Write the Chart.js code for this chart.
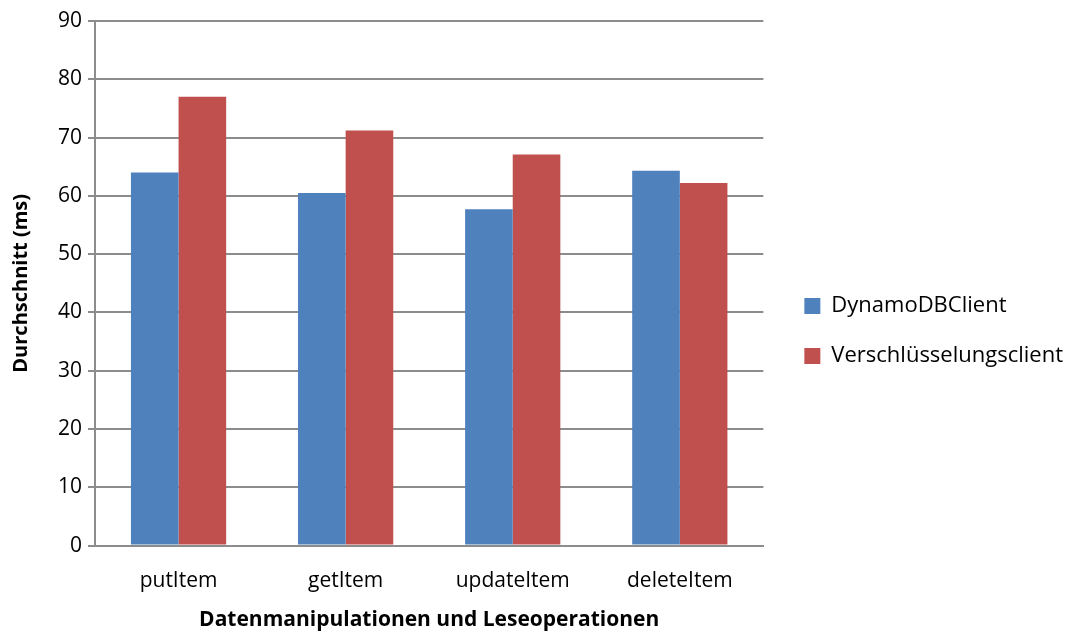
<!DOCTYPE html>
<html lang="de">
<head>
    <meta charset="UTF-8">
    <title>Durchschnitt</title>
    <style>
        body { margin: 0; background: #fff; }
        #wrap { width: 1077px; height: 634px; }
    </style>
</head>
<body>
    <div id="wrap"><canvas id="myChart"></canvas></div>
</body>
<script src="https://cdn.jsdelivr.net/npm/chart.js"></script>
<script>
    const operations = ['putItem', 'getItem', 'updateItem', 'deleteItem'];
    const dynamoDbClient = [64.0, 60.5, 57.7, 64.3];
    const encryptionClient = [77.0, 71.2, 67.1, 62.2];
    const yTicks = [0, 10, 20, 30, 40, 50, 60, 70, 80, 90];

    const fontFamily = '"Open Sans", sans-serif';
    const gridColor = '#8c8c8c';

    const data = {
        labels: operations,
        datasets: [{
            label: 'DynamoDBClient',
            data: dynamoDbClient,
            backgroundColor: '#4f81bd'
        }, {
            label: 'Verschlüsselungsclient',
            data: encryptionClient,
            backgroundColor: '#c0504d'
        }]
    };

    // nudge the legend a bit to the right of the plot and slightly down
    const legendShift = {
        id: 'legendShift',
        afterLayout(chart) {
            chart.legend.left += 13;
            chart.legend.right += 13;
            chart.legend.top += 4;
            chart.legend.bottom += 4;
        }
    };

    const config = {
        type: 'bar',
        data: data,
        plugins: [legendShift],
        options: {
            responsive: true,
            maintainAspectRatio: false,
            animation: false,
            layout: { padding: { left: 2, top: 21, right: 17, bottom: 1 } },
            datasets: {
                bar: { barPercentage: 1, categoryPercentage: 0.57 }
            },
            plugins: {
                tooltip: { enabled: false },
                legend: {
                    position: 'right',
                    align: 'center',
                    maxWidth: 314,
                    labels: {
                        color: '#000',
                        font: { family: fontFamily, size: 22 },
                        boxWidth: 16,
                        boxHeight: 16,
                        padding: 28
                    }
                }
            },
            scales: {
                x: {
                    // invisible tick marks just push the labels down
                    grid: { drawOnChartArea: false, drawTicks: true, tickLength: 23, tickColor: 'rgba(0,0,0,0)' },
                    border: { color: gridColor, width: 2 },
                    ticks: {
                        color: '#000',
                        font: { family: fontFamily, size: 21 },
                        padding: 0
                    },
                    title: {
                        display: true,
                        text: 'Datenmanipulationen und Leseoperationen',
                        color: '#000',
                        font: { family: fontFamily, size: 21, weight: 'bold' },
                        padding: { top: 14, bottom: 0 }
                    }
                },
                y: {
                    min: 0,
                    max: 90,
                    afterBuildTicks: function (axis) {
                        axis.ticks = yTicks.map(v => ({ value: v }));
                    },
                    grid: { color: gridColor, lineWidth: 2, tickLength: 7 },
                    border: { color: gridColor, width: 2 },
                    ticks: {
                        color: '#000',
                        font: { family: fontFamily, size: 21 },
                        padding: 6
                    },
                    title: {
                        display: true,
                        text: 'Durchschnitt (ms)',
                        color: '#000',
                        font: { family: fontFamily, size: 20, weight: 'bold' },
                        padding: { top: 7, bottom: 19 }
                    }
                }
            }
        }
    };

    // wait for the fonts so the legend is measured with the right widths
    Promise.all([
        document.fonts.load('21px "Open Sans"'),
        document.fonts.load('bold 21px "Open Sans"')
    ]).catch(() => {}).then(() => {
        const context = document.getElementById('myChart').getContext('2d');
        const myChart = new Chart(context, config);
    });
</script>
</html>
